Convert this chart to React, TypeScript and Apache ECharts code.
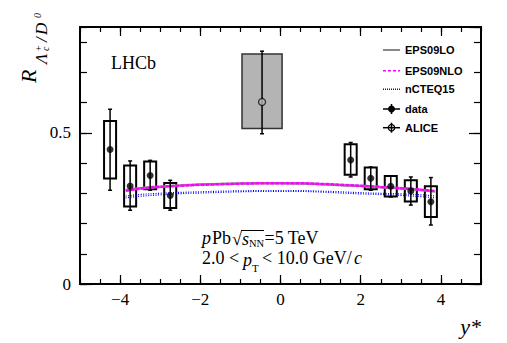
import React, { useEffect, useRef } from "react";
import * as echarts from "echarts";

// ---- data ----
const lhcbX = [-4.25, -3.75, -3.25, -2.75, 1.75, 2.25, 2.75, 3.25, 3.75];
const lhcbR = [0.445, 0.324, 0.359, 0.293, 0.41, 0.35, 0.323, 0.308, 0.272];
const statLo = [0.31, 0.244, 0.31, 0.244, 0.354, 0.31, 0.288, 0.261, 0.195];
const statHi = [0.578, 0.407, 0.409, 0.343, 0.468, 0.387, 0.357, 0.354, 0.352];
const systLo = [0.349, 0.256, 0.313, 0.251, 0.361, 0.313, 0.289, 0.273, 0.222];
const systHi = [0.539, 0.392, 0.405, 0.334, 0.462, 0.385, 0.357, 0.343, 0.323];
const lhcbHalfWidth = 0.15;

const aliceX = [-0.46];
const aliceR = [0.602];
const aliceStatLo = [0.497];
const aliceStatHi = [0.77];
const aliceSystLo = [0.514];
const aliceSystHi = [0.761];
const aliceHalfWidth = 0.5;

const modelX = [-3.86, -3.5, -3, -2.5, -2, -1.5, -1, -0.5, 0, 0.5, 1, 1.5, 2, 2.5, 3, 3.5, 3.86];
const eps09lo = [0.311, 0.317, 0.322, 0.326, 0.329, 0.331, 0.332, 0.333, 0.333, 0.332, 0.33, 0.327, 0.324, 0.32, 0.316, 0.311, 0.306];
const eps09nlo = [0.308, 0.315, 0.321, 0.325, 0.328, 0.33, 0.332, 0.333, 0.333, 0.333, 0.331, 0.328, 0.325, 0.321, 0.317, 0.312, 0.307];
const ncteqUp = [0.291, 0.296, 0.300, 0.303, 0.305, 0.307, 0.308, 0.309, 0.309, 0.309, 0.307, 0.305, 0.302, 0.3, 0.298, 0.295, 0.291];
const ncteqLo = [0.285, 0.29, 0.295, 0.299, 0.301, 0.303, 0.305, 0.306, 0.306, 0.306, 0.304, 0.301, 0.298, 0.296, 0.293, 0.289, 0.285];

const xMajor = [-4, -2, 0, 2, 4];
const yMajor = [0, 0.5];

const SERIF = "Liberation Serif";
const SANS = "Liberation Sans";

function pairs(xs: number[], ys: number[]) {
  return xs.map((x, i) => [x, ys[i]]);
}

function boxRender(fill: string, stroke: string, lw: number) {
  return (params: any, api: any) => {
    const x = api.value(0), lo = api.value(1), hi = api.value(2), hw = api.value(3);
    const p1 = api.coord([x - hw, hi]);
    const p2 = api.coord([x + hw, lo]);
    return {
      type: "rect",
      shape: { x: p1[0], y: p1[1], width: p2[0] - p1[0], height: p2[1] - p1[1] },
      style: { fill, stroke, lineWidth: lw },
    };
  };
}

function errRender(params: any, api: any) {
  const x = api.value(0), lo = api.value(1), hi = api.value(2);
  const top = api.coord([x, hi]);
  const bot = api.coord([x, lo]);
  const st = { stroke: "#000", lineWidth: 1.5 };
  return {
    type: "group",
    children: [
      { type: "line", shape: { x1: top[0], y1: top[1], x2: bot[0], y2: bot[1] }, style: st },
      { type: "line", shape: { x1: top[0] - 2, y1: top[1], x2: top[0] + 2, y2: top[1] }, style: st },
      { type: "line", shape: { x1: bot[0] - 2, y1: bot[1], x2: bot[0] + 2, y2: bot[1] }, style: st },
    ],
  };
}

function xAxis(position: string, customMajor: boolean, len: number, labels: boolean) {
  const a: any = {
    type: "value",
    position,
    min: -5,
    max: 5,
    splitLine: { show: false },
    axisLine: { show: true, onZero: false, lineStyle: { color: "#000", width: 2 } },
    axisTick: { show: true, inside: true, length: len, lineStyle: { color: "#000", width: 1.2 } },
    axisLabel: { show: false },
  };
  if (customMajor) {
    a.axisTick.customValues = xMajor;
    a.axisLabel = labels
      ? {
          show: true,
          customValues: xMajor,
          margin: 7,
          color: "#000",
          fontFamily: SERIF,
          fontSize: 17,
          formatter: (v: number) => (v < 0 ? "\u2212" + Math.abs(v) : String(v)),
        }
      : { show: false };
  } else {
    a.interval = 0.5;
  }
  return a;
}

function yAxis(position: string, major: boolean, len: number, labels: boolean) {
  return {
    type: "value",
    position,
    min: 0,
    max: 0.85,
    interval: major ? 0.5 : 0.1,
    splitLine: { show: false },
    axisLine: { show: true, onZero: false, lineStyle: { color: "#000", width: 2 } },
    axisTick: { show: true, inside: true, length: len, lineStyle: { color: "#000", width: 1.2 } },
    axisLabel: labels
      ? {
          show: true,
          margin: 9,
          color: "#000",
          fontFamily: SERIF,
          fontSize: 17,
          showMaxLabel: false,
          formatter: (v: number) => (yMajor.indexOf(v) >= 0 ? (v === 0 ? "0" : v.toFixed(1)) : ""),
        }
      : { show: false },
  };
}

function txt(x: number, y: number, text: string, size: number, opts: any = {}) {
  return {
    type: "text",
    x,
    y,
    silent: true,
    style: {
      text,
      fontSize: size,
      fontFamily: opts.family || SERIF,
      fontStyle: opts.italic ? "italic" : "normal",
      fontWeight: opts.bold ? "bold" : "normal",
      fill: "#000",
      align: opts.align || "left",
      verticalAlign: "middle",
    },
  };
}

function legendRows() {
  const rows = [50, 70.7, 89.3, 109, 127.7];
  const x1 = 383, x2 = 400, xm = 391.5, tx = 405;
  const els: any[] = [];
  els.push({ type: "line", shape: { x1, y1: rows[0], x2, y2: rows[0] }, style: { stroke: "#888", lineWidth: 2 } });
  els.push({ type: "line", shape: { x1, y1: rows[1], x2, y2: rows[1] }, style: { stroke: "#ff00ff", lineWidth: 1.5, lineDash: [3, 2] } });
  els.push({ type: "line", shape: { x1, y1: rows[2], x2, y2: rows[2] }, style: { stroke: "#0000ff", lineWidth: 1.5, lineDash: [1, 1] } });
  els.push({ type: "line", shape: { x1, y1: rows[3], x2, y2: rows[3] }, style: { stroke: "#000", lineWidth: 1.5 } });
  els.push({ type: "line", shape: { x1: xm, y1: rows[3] - 5, x2: xm, y2: rows[3] + 5 }, style: { stroke: "#000", lineWidth: 1.5 } });
  els.push({ type: "circle", shape: { cx: xm, cy: rows[3], r: 3.5 }, style: { fill: "#000" } });
  els.push({ type: "line", shape: { x1, y1: rows[4], x2, y2: rows[4] }, style: { stroke: "#000", lineWidth: 1.5 } });
  els.push({ type: "line", shape: { x1: xm, y1: rows[4] - 5, x2: xm, y2: rows[4] + 5 }, style: { stroke: "#000", lineWidth: 1.5 } });
  els.push({ type: "circle", shape: { cx: xm, cy: rows[4], r: 3.2 }, style: { fill: "none", stroke: "#000", lineWidth: 1.2 } });
  const names = ["EPS09LO", "EPS09NLO", "nCTEQ15", "data", "ALICE"];
  names.forEach((n, i) => els.push(txt(tx, rows[i], n, 11, { family: SANS, bold: true })));
  return els;
}

function yTitle() {
  return {
    type: "group",
    x: 28.5,
    y: 83,
    rotation: Math.PI / 2,
    children: [
      txt(0, 0, "R", 22, { italic: true }),
      txt(19, 13, "\u039B", 17, { italic: true }),
      txt(32, 9.5, "+", 10),
      txt(32, 16.5, "c", 10, { italic: true }),
      txt(41, 13, "/", 17, { italic: true }),
      txt(48, 13, "D", 17, { italic: true }),
      txt(65, 8.5, "0", 10, { italic: true }),
    ],
  };
}

function annotations() {
  const y1 = 238, y2 = 258;
  return [
    txt(111, 63, "LHCb", 18),
    txt(202, y1, "p", 18, { italic: true }),
    txt(212, y1, "Pb", 18),
    txt(232, y1 + 1, "\u221A", 18),
    { type: "line", shape: { x1: 241, y1: 230.5, x2: 264, y2: 230.5 }, style: { stroke: "#000", lineWidth: 1 } },
    txt(242, y1 + 1, "s", 18, { italic: true }),
    txt(249, 243.5, "NN", 10.5),
    txt(264.5, y1, "=5 TeV", 18),
    txt(202, y2, "2.0 <", 18),
    txt(243, y2 + 2, "p", 18, { italic: true }),
    txt(252, 267.5, "T", 11),
    txt(262, y2, "< 10.0 GeV/", 18),
    txt(362, y2, "c", 18, { italic: true, align: "right" }),
    txt(481, 326, "y*", 22, { italic: true, align: "right" }),
  ];
}

export default function App() {
  const ref = useRef<HTMLDivElement>(null);
  useEffect(() => {
    if (!ref.current) return;
    const chart = echarts.init(ref.current, undefined, { renderer: "svg" });
    const lhcbBoxes = lhcbX.map((x, i) => [x, systLo[i], systHi[i], lhcbHalfWidth]);
    const lhcbErr = lhcbX.map((x, i) => [x, statLo[i], statHi[i]]);
    const aliceBoxes = aliceX.map((x, i) => [x, aliceSystLo[i], aliceSystHi[i], aliceHalfWidth]);
    const aliceErr = aliceX.map((x, i) => [x, aliceStatLo[i], aliceStatHi[i]]);
    const option: any = {
      animation: false,
      backgroundColor: "#fff",
      grid: { left: 80, right: 26, top: 27, bottom: 59, containLabel: false },
      xAxis: [
        xAxis("bottom", true, 9, true),
        xAxis("bottom", false, 5, false),
        xAxis("top", true, 9, false),
        xAxis("top", false, 5, false),
      ],
      yAxis: [
        yAxis("left", true, 12, true),
        yAxis("left", false, 7, false),
        yAxis("right", true, 12, false),
        yAxis("right", false, 7, false),
      ],
      series: [
        {
          name: "ALICE syst",
          type: "custom",
          renderItem: boxRender("#b4b4b4", "#333", 1.5),
          data: aliceBoxes,
          encode: { x: 0, y: [1, 2] },
          z: 1,
        },
        {
          name: "data syst",
          type: "custom",
          renderItem: boxRender("none", "#000", 2),
          data: lhcbBoxes,
          encode: { x: 0, y: [1, 2] },
          z: 2,
        },
        { name: "EPS09LO", type: "line", data: pairs(modelX, eps09lo), smooth: true, showSymbol: false, lineStyle: { color: "#8c8c8c", width: 2.5 }, z: 3 },
        { name: "EPS09NLO", type: "line", data: pairs(modelX, eps09nlo), smooth: true, showSymbol: false, lineStyle: { color: "#ff00ff", width: 2.5, type: [4, 1] }, z: 4 },
        { name: "nCTEQ15", type: "line", data: pairs(modelX, ncteqUp), smooth: true, showSymbol: false, lineStyle: { color: "#0000ff", width: 1.2, type: [1, 1.5] }, z: 4 },
        { name: "nCTEQ15 low", type: "line", data: pairs(modelX, ncteqLo), smooth: true, showSymbol: false, lineStyle: { color: "#0000ff", width: 1.2, type: [1, 1.5] }, z: 4 },
        {
          name: "data err",
          type: "custom",
          renderItem: errRender,
          data: lhcbErr,
          encode: { x: 0, y: [1, 2] },
          z: 5,
        },
        {
          name: "ALICE err",
          type: "custom",
          renderItem: errRender,
          data: aliceErr,
          encode: { x: 0, y: [1, 2] },
          z: 5,
        },
        { name: "data", type: "scatter", data: pairs(lhcbX, lhcbR), symbol: "circle", symbolSize: 7, itemStyle: { color: "#000" }, z: 6 },
        {
          name: "ALICE",
          type: "scatter",
          data: pairs(aliceX, aliceR),
          symbol: "circle",
          symbolSize: 7,
          itemStyle: { color: "#b4b4b4", borderColor: "#000", borderWidth: 1.2 },
          z: 6,
        },
      ],
      graphic: [...legendRows(), yTitle(), ...annotations()],
    };
    chart.setOption(option);
    return () => chart.dispose();
  }, []);
  return (
    <div
      ref={ref}
      style={{ position: "absolute", left: 0, top: 0, width: 507, height: 343, background: "#fff" }}
    />
  );
}
